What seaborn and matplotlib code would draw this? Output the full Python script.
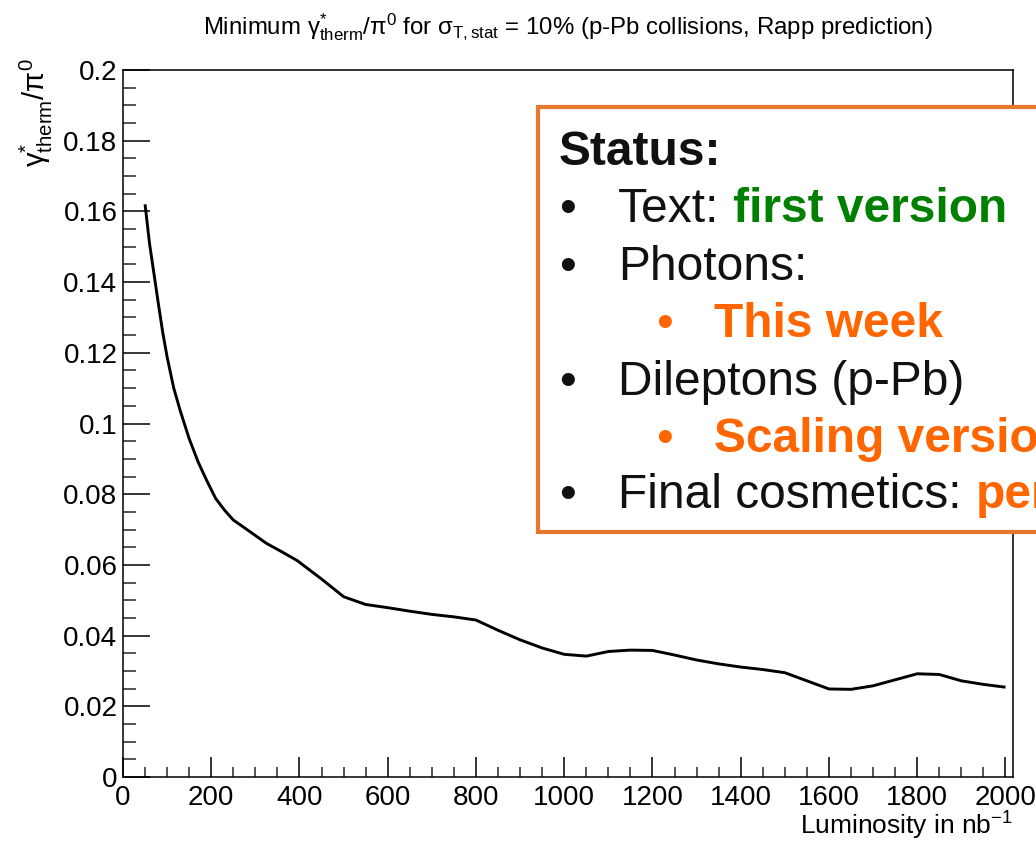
import numpy as np
import pandas as pd
import matplotlib
matplotlib.use("Agg")
import matplotlib.pyplot as plt
import seaborn as sns
from matplotlib.ticker import MultipleLocator, FixedLocator, FixedFormatter
from matplotlib.patches import Rectangle
from matplotlib.text import Annotation

# ---------------- data ----------------
luminosity = [50, 60, 70, 80, 90, 100, 115, 130, 150, 170, 190, 210, 230, 250,
              290, 325, 360, 395, 450, 500, 550, 600, 650, 700, 750, 800, 850,
              900, 950, 1000, 1050, 1100, 1150, 1200, 1250, 1300, 1350, 1400,
              1450, 1500, 1550, 1600, 1650, 1700, 1750, 1800, 1850, 1900, 1950,
              2000]
gamma_ratio = [0.1620, 0.1510, 0.1425, 0.1340, 0.1258, 0.1188, 0.1100, 0.1035,
               0.0957, 0.0892, 0.0838, 0.0788, 0.0755, 0.0727, 0.0692, 0.0661,
               0.0637, 0.0612, 0.0560, 0.0510, 0.0488, 0.0479, 0.0469, 0.0460,
               0.0453, 0.0444, 0.0415, 0.0388, 0.0365, 0.0347, 0.0342, 0.0355,
               0.0359, 0.0358, 0.0345, 0.0331, 0.0320, 0.0311, 0.0304, 0.0295,
               0.0272, 0.0249, 0.0248, 0.0258, 0.0275, 0.0292, 0.0290, 0.0272,
               0.0262, 0.0254]

xtick_values = [0, 200, 400, 600, 800, 1000, 1200, 1400, 1600, 1800, 2000]
xtick_labels = ["0", "200", "400", "600", "800", "1000", "1200", "1400", "1600",
                "1800", "2000"]
ytick_values = [0, 0.02, 0.04, 0.06, 0.08, 0.10, 0.12, 0.14, 0.16, 0.18, 0.20]
ytick_labels = ["0", "0.02", "0.04", "0.06", "0.08", "0.1", "0.12", "0.14",
                "0.16", "0.18", "0.2"]

title_text = (r"Minimum $\mathrm{\gamma}^{*}_{\mathrm{therm}}/\mathrm{\pi}^{0}$ for "
              r"$\mathrm{\sigma}_{\mathrm{T,stat}}$ = 10% (p-Pb collisions, Rapp prediction)")
xlabel_text = r"Luminosity in nb$^{-1}$"
ylabel_text = r"$\mathrm{\gamma}^{*}_{\mathrm{therm}}/\mathrm{\pi}^{0}$"

status_title = "Status:"
status_items = [
    # (level, plain text, highlighted text, highlight colour)
    (0, "Text:", "first version", "#008000"),
    (0, "Photons:", "", None),
    (1, "", "This week", "#FF6600"),
    (0, "Dileptons (p-Pb)", "", None),
    (1, "", "Scaling version", "#FF6600"),
    (0, "Final cosmetics:", "pending", "#FF6600"),
]

df = pd.DataFrame({"luminosity": luminosity, "ratio": gamma_ratio})

# ---------------- style ----------------
sns.set_style("ticks")
plt.rcParams["font.family"] = ["Liberation Sans", "DejaVu Sans"]
plt.rcParams["mathtext.fontset"] = "custom"
plt.rcParams["mathtext.rm"] = "Liberation Sans"
plt.rcParams["mathtext.it"] = "Liberation Sans:italic"
plt.rcParams["mathtext.bf"] = "Liberation Sans:bold"
plt.rcParams["mathtext.default"] = "regular"

W, H = 1036, 843
fig = plt.figure(figsize=(W / 100, H / 100), dpi=100)
fig.patch.set_facecolor("white")


def fx(px):
    return px / W


def fy(py):
    return 1 - py / H


ax = fig.add_axes([fx(123), fy(777), fx(1013) - fx(123), fy(70) - fy(777)])
ax.set_facecolor("white")

sns.lineplot(data=df, x="luminosity", y="ratio", ax=ax, color="black",
             linewidth=2.1, estimator=None, sort=False,
             solid_joinstyle="round", solid_capstyle="butt")

ax.set_xlim(0, 2017)
ax.set_ylim(0, 0.2)
ax.xaxis.set_major_locator(FixedLocator(xtick_values))
ax.xaxis.set_major_formatter(FixedFormatter(xtick_labels))
ax.yaxis.set_major_locator(FixedLocator(ytick_values))
ax.yaxis.set_major_formatter(FixedFormatter(ytick_labels))
ax.xaxis.set_minor_locator(MultipleLocator(50))
ax.yaxis.set_minor_locator(MultipleLocator(0.005))

for s in ax.spines.values():
    s.set_visible(True)
    s.set_color("black")
    s.set_linewidth(1.1)

ax.tick_params(axis="x", which="major", direction="in", length=14.5, width=1.1,
               labelsize=20, pad=5.5, top=False, colors="black")
ax.tick_params(axis="x", which="minor", direction="in", length=7.2, width=1.1,
               top=False)
ax.tick_params(axis="y", which="major", direction="in", length=19.4, width=1.1,
               labelsize=20, pad=4, right=False, colors="black")
ax.tick_params(axis="y", which="minor", direction="in", length=9.4, width=1.1,
               right=False)
ax.set_xlabel("")
ax.set_ylabel("")

# titles / axis labels (ROOT style placement)
fig.text(fx(568), fy(27), title_text, ha="center", va="center", fontsize=17.3,
         color="black")
fig.text(fx(1013), fy(835), xlabel_text, ha="right", va="baseline", fontsize=19,
         color="black")
fig.text(fx(36), fy(58), ylabel_text, ha="center", va="top", rotation=90,
         fontsize=21, color="black")

# ---------------- status overlay box ----------------
box = Rectangle((fx(538), fy(532)), 0.6, fy(107) - fy(532), transform=fig.transFigure,
                facecolor="white", edgecolor="#E8772E", linewidth=3, zorder=5,
                clip_on=False)
fig.add_artist(box)

fs = 34.5
txt_black = "#111111"
fig.text(fx(559), fy(165), status_title, ha="left", va="baseline", fontsize=fs,
         fontweight="bold", color=txt_black, zorder=6)

baselines = [222, 280, 337, 395, 452, 508]
for (level, plain, hi, col), yb in zip(status_items, baselines):
    if level == 0:
        fig.text(fx(559), fy(yb), "\u2022", ha="left", va="baseline", fontsize=fs,
                 color=txt_black, zorder=6)
        t = fig.text(fx(618), fy(yb), plain, ha="left", va="baseline", fontsize=fs,
                     color=txt_black, zorder=6)
        if hi:
            a = Annotation(hi, xy=(1, 0), xycoords=t, xytext=(10, 0),
                           textcoords="offset points", ha="left", va="bottom",
                           fontsize=fs, fontweight="bold", color=col, zorder=7,
                           annotation_clip=False)
            fig.add_artist(a)
    else:
        fig.text(fx(656), fy(yb), "\u2022", ha="left", va="baseline", fontsize=fs,
                 color=col, zorder=6)
        fig.text(fx(714), fy(yb), hi, ha="left", va="baseline", fontsize=fs,
                 fontweight="bold", color=col, zorder=6)

fig.savefig("out.png", dpi=100, facecolor="white")
